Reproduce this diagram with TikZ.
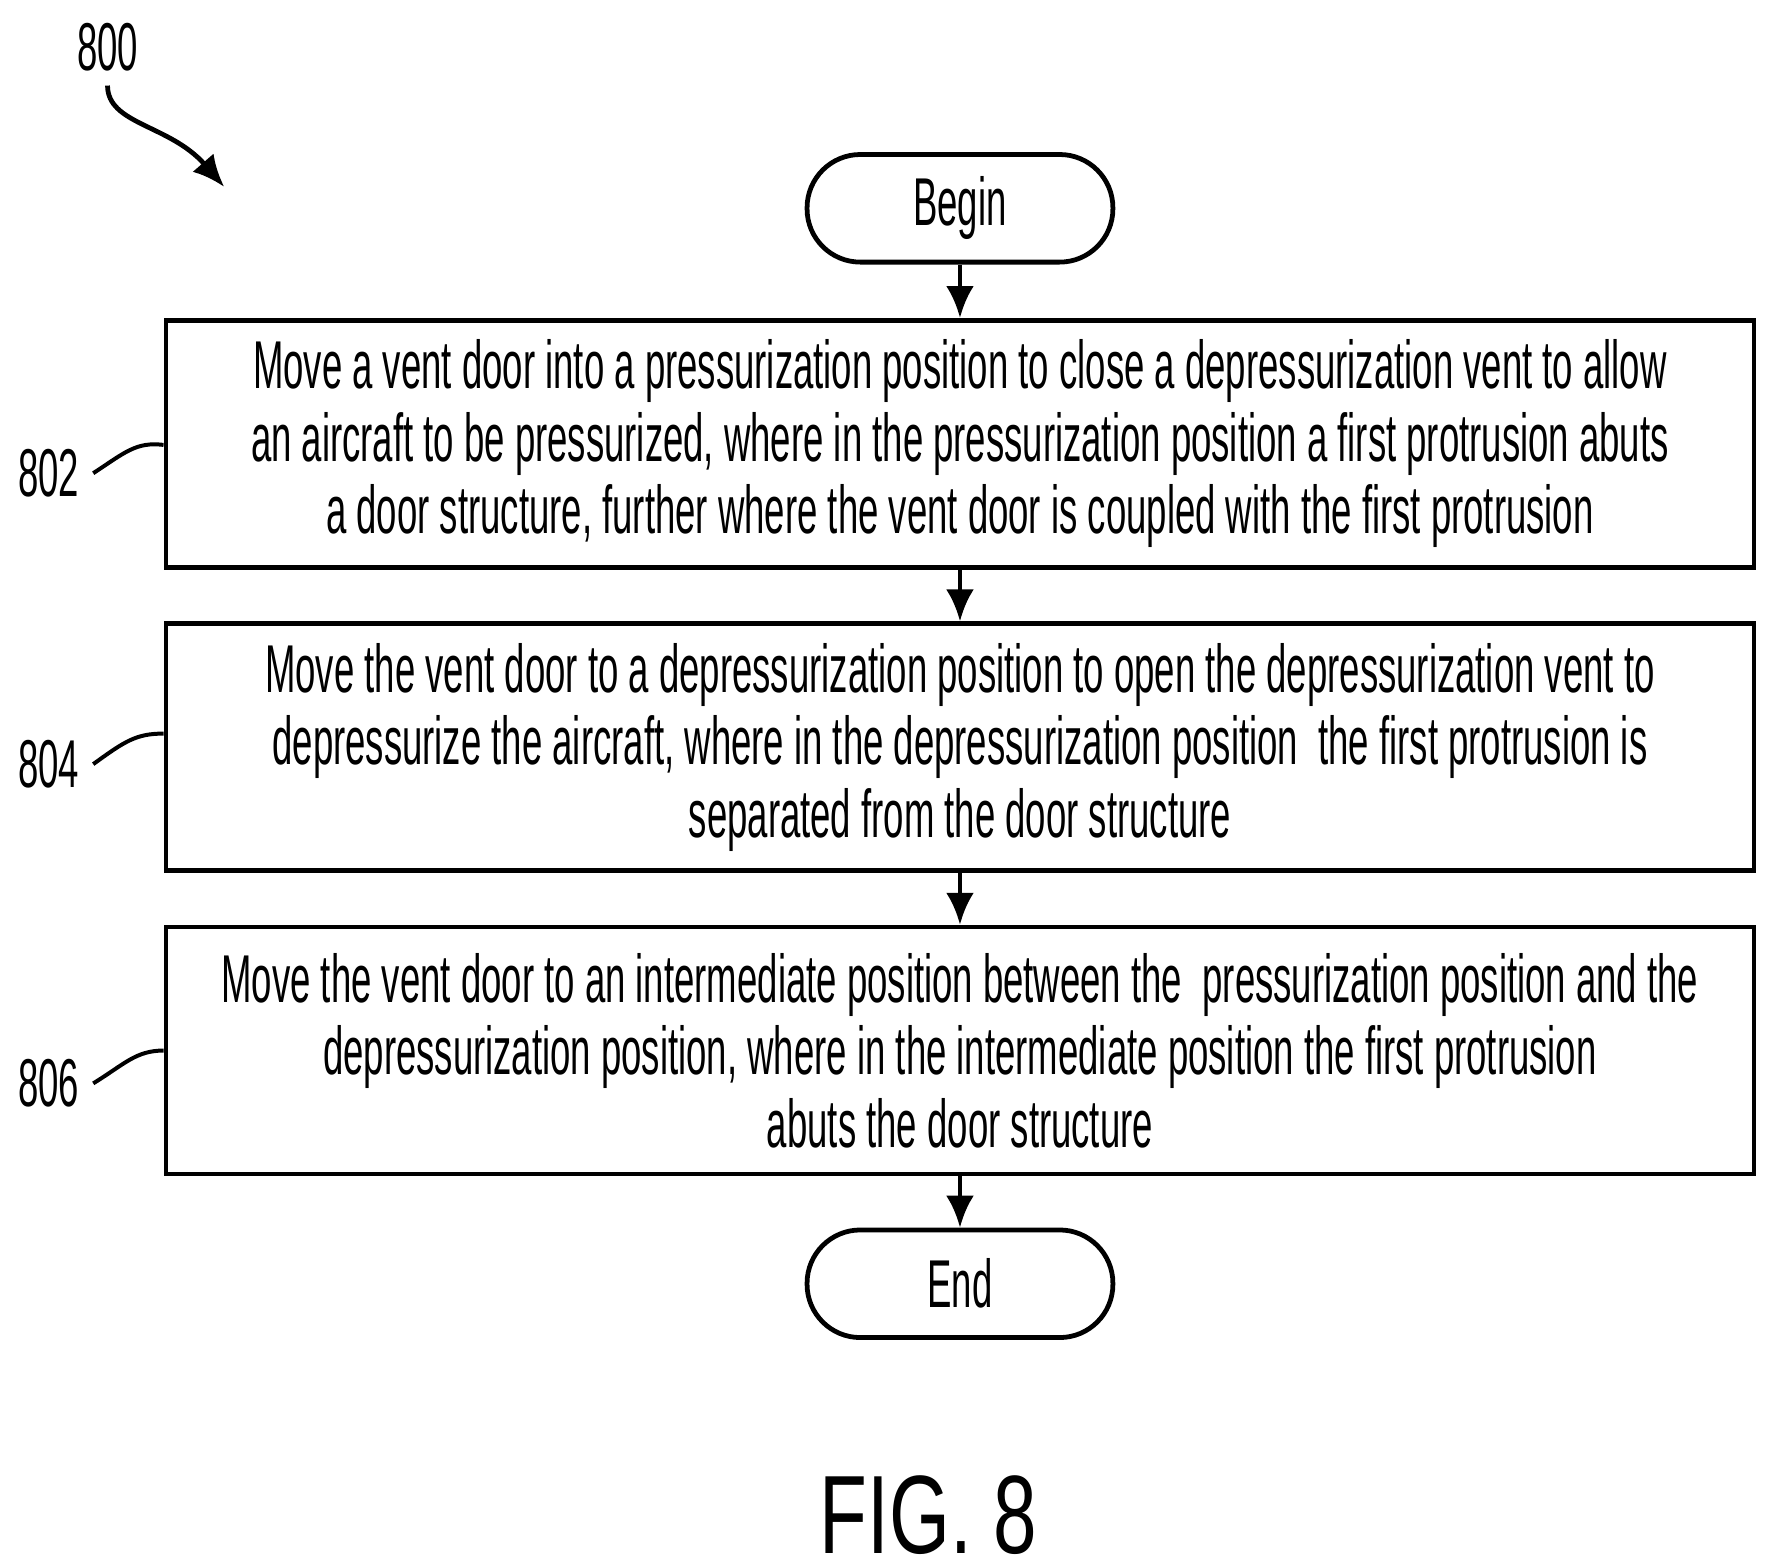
\documentclass[tikz,border=0pt]{standalone}
\usepackage{fontspec}
\setmainfont[FakeStretch=0.54]{Liberation Sans}
\usetikzlibrary{positioning,arrows.meta}
\begin{document}
\begin{tikzpicture}[x=0.01cm,y=-0.01cm,
	procbox/.style = {
		draw,
		rectangle,
		line width = 1.2pt,
		minimum width = 14.02cm,
		minimum height = 2.18cm,
		align = center,
		font = \fontsize{17}{18.2}\selectfont
	},
	term/.style = {
		draw,
		rectangle,
		rounded corners = 0.47cm,
		line width = 1.2pt,
		minimum width = 2.7cm,
		minimum height = 0.95cm,
		font = \fontsize{17}{18}\selectfont
	},
	flow/.style = {
		-{Latex[length=8pt,width=7pt]},
		line width = 1.2pt
	},
	refnum/.style = {
		font = \fontsize{17}{18}\selectfont
	}
]
\useasboundingbox (0,0) rectangle (1560,1381);

\node [term] (begin) at (848,184) {Begin};
\node [procbox] (s802) at (848,392) {Move a vent door into a pressurization position to close a depressurization vent to allow\\
an aircraft to be pressurized, where in the pressurization position a first protrusion abuts\\
a door structure, further where the vent door is coupled with the first protrusion};
\node [procbox] (s804) at (848,660) {Move the vent door to a depressurization position to open the depressurization vent to\\
depressurize the aircraft, where in the depressurization position~~the first protrusion is\\
separated from the door structure};
\node [procbox] (s806) at (848,928) {Move the vent door to an intermediate position between the~~pressurization position and the\\
depressurization position, where in the intermediate position the first protrusion\\
abuts the door structure};
\node [term] (end) at (848,1134) {End};

\draw [flow] (begin) -- (s802);
\draw [flow] (s802) -- (s804);
\draw [flow] (s804) -- (s806);
\draw [flow] (s806) -- (end);

% reference numerals
\node [refnum] (n800) at (95,42) {800};
\node [refnum] (n802) at (43,418) {802};
\node [refnum] (n804) at (43,675) {804};
\node [refnum] (n806) at (43,957) {806};
\coordinate (a800) at (198,165);

\draw [flow] (n800.south) .. controls (95,110) and (150,110) .. (a800);
\draw [line width = 1pt] (n802.east) .. controls (110,400) and (120,390) .. (s802.west |- 0,393);
\draw [line width = 1pt] (n804.east) .. controls (110,655) and (120,648) .. (s804.west |- 0,648);
\draw [line width = 1pt] (n806.east) .. controls (110,940) and (120,928) .. (s806.west |- 0,928);

\node [font=\fontsize{28}{28}\selectfont, xscale=1.3] (fig) at (820,1338) {FIG. 8};
\end{tikzpicture}
\end{document}
